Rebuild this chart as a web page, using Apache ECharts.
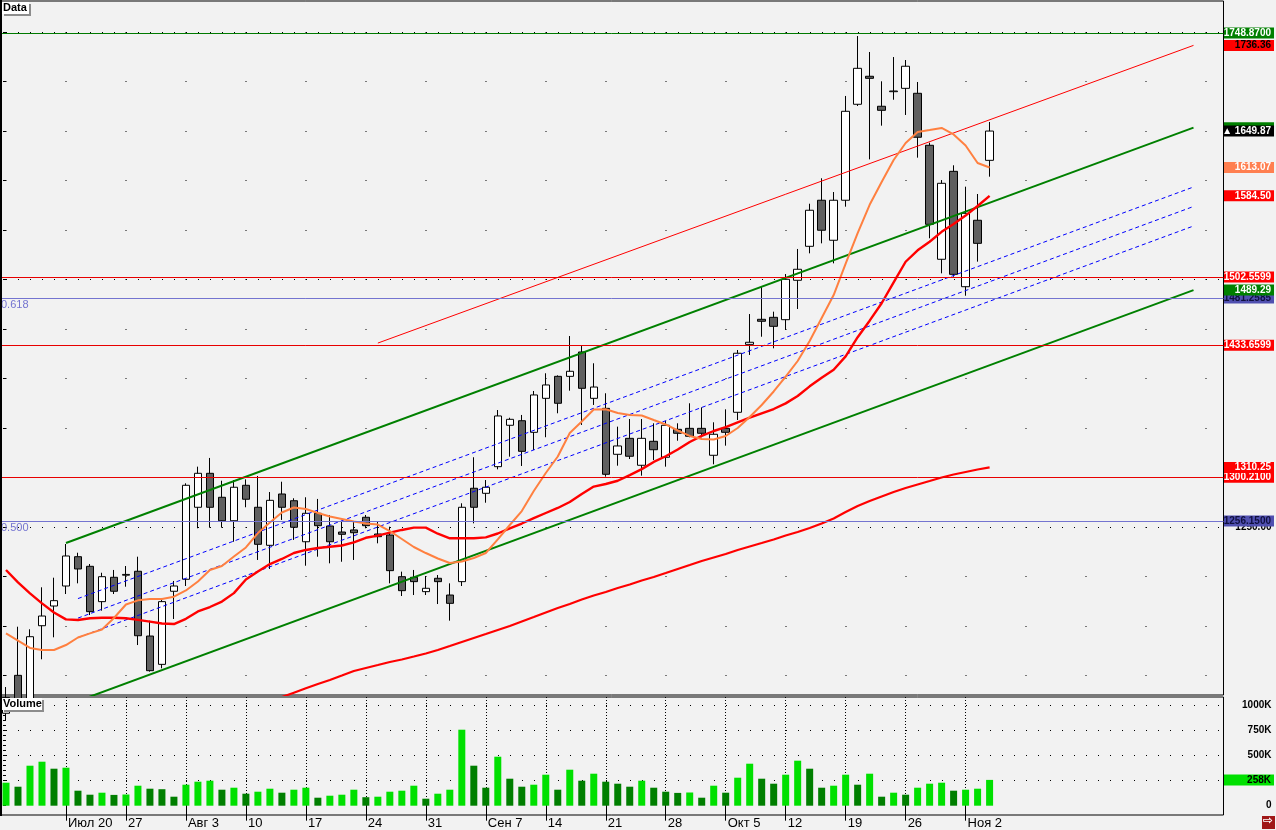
<!DOCTYPE html>
<html><head><meta charset="utf-8">
<script src="https://cdn.jsdelivr.net/npm/echarts@6/dist/echarts.min.js"></script>
<style>html,body{margin:0;padding:0;background:#f2f2f2;}#c{width:1276px;height:830px;}</style>
</head><body><div id="c"></div>
<script>
// ---- tick labels (one per Monday, index of the trading day) ----
const weekTickIdx = [5,10,15,20,25,30,35,40,45,50,55,60,65,70,75,80];
const weekLabels = ['Июл 20','27','Авг 3','10','17','24','31','Сен 7','14','21','28','Окт 5','12','19','26','Ноя 2'];
const priceTicks = [1100,1150,1200,1250,1300,1350,1400,1450,1500,1550,1600,1650,1700,1750];
const priceMajorTicks = [1250,1500,1750];
const priceAxisLabels = [1250];
const volTicks = [0,50000,100000,150000,200000,250000,300000,350000,400000,450000,500000,550000,600000,650000,700000,750000,800000,850000,900000,950000,1000000,1050000];
const volLabels = [0,250000,500000,750000,1000000];

// ---- daily OHLC ----
const opens = [1062,1100.3,1074,1150.4,1170.3,1190.5,1220.1,1210.4,1174.7,1199.3,
1201.4,1205.4,1140.0,1111.4,1185.2,1197.3,1270.0,1304.3,1280.1,1256.4,
1292.2,1270.0,1231.6,1283.4,1276.6,1235.2,1263.9,1251.1,1245.0,1247.1,
1259.9,1243.0,1242.0,1199.9,1199.3,1184.8,1198.3,1181.4,1194.9,1289.2,
1284.1,1311.0,1352.8,1357.4,1345.7,1380.0,1402.2,1402.2,1426.8,1380.0,
1369.9,1323.5,1339.6,1312.4,1336.6,1320.5,1348.7,1349.7,1349.7,1322.5,
1349.7,1365.9,1434.5,1459.8,1461.8,1459.4,1499.2,1533.5,1580.0,1539.6,
1580.0,1676.9,1705.2,1674.9,1689.6,1693.0,1688.0,1635.5,1520.4,1609.2,
1492.7,1559.8,1620.3];
const closes = [1078,1072,1139.3,1160.2,1175.7,1220.8,1207.7,1164.6,1199.9,1185.2,
1202.2,1140.3,1105.0,1174.7,1190.5,1292.2,1304.3,1270.0,1256.4,1290.2,
1278.1,1232.6,1277.0,1270.0,1249.8,1263.9,1251.4,1235.2,1242.7,1244.3,
1251.4,1240.3,1206.0,1185.8,1194.9,1188.2,1194.9,1173.0,1270.0,1270.0,
1290.2,1362.2,1358.8,1326.5,1383.4,1393.5,1375.0,1407.3,1390.1,1391.4,
1303.3,1331.9,1321.5,1339.6,1328.1,1352.8,1344.7,1341.7,1344.7,1343.7,
1345.7,1425.5,1436.6,1457.8,1452.7,1500.2,1510.3,1569.9,1549.7,1580.0,
1669.8,1713.2,1703.1,1670.8,1690.3,1715.3,1643.6,1555.7,1597.1,1505.2,
1566.8,1536.5,1649.87];
const lows = [1055,1066,1068,1116.5,1138.7,1182.4,1193.2,1161.2,1165.6,1182.4,
1189.8,1130.9,1104.0,1107.4,1157.2,1190.5,1248.8,1249.4,1249.4,1235.2,
1270.0,1216.8,1207.7,1257.2,1237.0,1211.0,1220.1,1213.4,1215.0,1216.8,
1248.8,1233.6,1193.2,1180.4,1181.4,1181.4,1172.3,1155.5,1190.5,1253.8,
1274.6,1308.3,1321.1,1311.7,1327.8,1340.7,1364.9,1387.7,1353.1,1373.3,
1300.9,1312.0,1318.7,1301.9,1317.7,1311.0,1337.2,1340.7,1340.7,1313.4,
1332.2,1358.1,1423.8,1442.2,1430.5,1449.0,1470.2,1526.4,1536.5,1516.3,
1573.5,1675.2,1621.3,1655.3,1681.5,1666.1,1623.0,1541.6,1506.2,1502.8,
1483.6,1518.0,1603.8];
const highs = [1088.5,1149.4,1146.8,1189.2,1198.9,1232.9,1224.1,1212.7,1203.9,1206.7,
1210.7,1220.1,1155.5,1178.4,1195.6,1294.2,1311.0,1319.8,1296.8,1297.5,
1298.2,1301.6,1285.4,1295.8,1279.1,1280.1,1278.4,1262.2,1255.4,1255.4,
1262.2,1255.4,1250.4,1205.0,1206.7,1200.6,1201.6,1193.2,1274.0,1320.5,
1297.5,1368.2,1360.4,1363.2,1387.4,1405.3,1403.2,1442.9,1432.8,1415.4,
1385.1,1351.4,1359.1,1359.1,1354.8,1357.4,1354.8,1375.0,1370.9,1355.8,
1368.9,1428.8,1465.1,1492.7,1467.5,1505.5,1530.8,1576.5,1602.2,1588.3,
1685.3,1745.8,1729.7,1700.1,1724.6,1721.6,1699.4,1638.1,1600.4,1615.3,
1593.7,1586.3,1659.0];
const volumes = [230000,190000,400000,440000,370000,380000,150000,110000,130000,108000,
112000,200000,170000,165000,90000,210000,240000,250000,160000,180000,
120000,140000,170000,130000,160000,180000,80000,100000,110000,160000,
85000,90000,140000,150000,200000,70000,120000,160000,760000,400000,
180000,490000,270000,190000,210000,310000,160000,360000,250000,320000,
240000,220000,190000,250000,180000,140000,128000,132000,80000,200000,
130000,280000,420000,270000,220000,310000,450000,370000,180000,200000,
310000,210000,320000,90000,130000,110000,180000,220000,230000,150000,
160000,170000,258000];

// ---- indicators ----
const fastMA = [1142.7,1135.4,1128.0,1125.9,1125.9,1130.9,1138.5,1142.7,1146.6,1158.2,
1171.8,1176.0,1177.4,1177.4,1179.7,1186.0,1195.1,1206.7,1210.7,1220.3,
1229.4,1244.0,1254.6,1264.7,1269.8,1268.3,1264.2,1260.7,1258.2,1255.6,
1253.6,1252.6,1246.0,1238.0,1229.9,1223.8,1218.3,1213.7,1215.2,1218.8,
1223.8,1237.5,1252.1,1266.2,1286.4,1304.6,1321.3,1345.0,1356.6,1368.7,
1368.9,1365.2,1363.2,1362.7,1358.1,1353.6,1347.5,1342.0,1338.9,1338.4,
1342.0,1350.0,1361.2,1373.3,1386.9,1402.0,1417.7,1437.9,1461.1,1484.3,
1516.1,1546.9,1575.4,1598.4,1620.6,1637.8,1648.9,1650.9,1653.0,1646.4,
1635.3,1617.6,1613.07];
const midMA = [1206.7,1194.2,1183.1,1173.0,1163.8,1156.8,1156.2,1158.0,1158.5,1158.4,
1157.9,1156.3,1154.5,1152.7,1152.1,1157.4,1164.8,1169.3,1174.8,1183.3,
1197.0,1205.1,1212.7,1217.8,1223.8,1226.9,1228.9,1230.1,1231.4,1234.6,
1239.2,1241.4,1244.4,1247.1,1249.4,1249.4,1243.3,1238.7,1238.7,1238.7,
1239.6,1243.5,1248.7,1253.6,1259.0,1264.2,1269.3,1275.3,1283.4,1290.9,
1293.5,1296.8,1302.4,1308.5,1315.8,1321.5,1328.3,1335.9,1342.1,1347.0,
1351.0,1355.8,1360.4,1364.9,1369.2,1374.9,1382.4,1392.1,1400.8,1408.8,
1422.4,1441.7,1458.4,1476.0,1497.0,1517.9,1529.5,1538.1,1548.1,1556.0,
1564.5,1574.2,1584.5];
const slowMAStart = 22;
const slowMA = [1073.9,1078.4,1082.8,1087.2,1091.6,1095.6,1100.1,1104.7,1107.7,1110.7,
1113.8,1116.3,1119.3,1122.4,1125.9,1129.9,1134.0,1138.0,1142.0,1146.1,
1150.1,1154.7,1159.2,1163.8,1168.3,1172.3,1176.9,1180.9,1184.5,1188.5,
1192.0,1196.1,1199.6,1203.6,1207.7,1211.7,1215.8,1219.3,1222.8,1226.9,
1230.4,1233.9,1237.5,1241.5,1245.0,1249.1,1253.6,1258.7,1265.2,1271.3,
1276.3,1280.9,1285.4,1289.5,1293.0,1296.5,1300.1,1303.1,1305.6,1308.1,
1310.25];

// trend lines: [dayIndex, price]
const channelUpper = [[5,1233.9],[99,1653.30]];
const channelLower = [[5,1069.9],[99,1489.29]];
const devUpper = [[6,1177.8],[99,1593.4]];
const devMid = [[6,1158.1],[99,1573.7]];
const devLower = [[6,1138.4],[99,1554.0]];
const redTrend = [[31,1435.8],[99,1736.36]];

// horizontal levels
const levelGreen = [1748.87];
const levelRed = [1502.5599,1433.6599,1300.21];
const fibLevels = [1481.2585,1256.15];
const fibNames = ['0.618','0.500'];

// ---------------------------------------------------------------
const FONT = 'Liberation Sans';
const candleData = opens.map((o,i)=>[i,o,closes[i],lows[i],highs[i]]);
const volData = volumes.map((v,i)=>[i,v]);
const toXY = arr => arr.map((v,i)=>[i,v]);
const slowData = slowMA.map((v,i)=>[i+slowMAStart,v]);
const last = a => a[a.length-1];
const lastY = a => a[a.length-1][1];
const hidden = {color:'rgba(0,0,0,0)', width:0, opacity:1};

function tag(value, text, bg, fg, lineStyle){
  return {
    yAxis: value,
    lineStyle: lineStyle || hidden,
    label: {show:true, opacity:1, position:'end', distance:0.5, formatter:'{t|'+text+'}',
      rich:{t:{backgroundColor:bg, color:fg, fontFamily:FONT, fontWeight:'bold', fontSize:10,
        lineHeight:11, height:11, width:46, align:'right', padding:[0,3,0,1], opacity:1}}}
  };
}
function fibText(value, text){
  return {yAxis:value, lineStyle:hidden,
    label:{show:true, opacity:1, position:'insideStartBottom', distance:1, formatter:text,
      color:'#7474d0', fontFamily:FONT, fontSize:11}};
}
const redLine = {color:'#e80000', width:1, type:'solid', opacity:1};
const fibLine = {color:'#7474d0', width:1, type:'solid', opacity:1};
const greenLine = {color:'#007a00', width:1, type:'solid', opacity:1};

const levelMarks = [
  tag(levelGreen[0], levelGreen[0].toFixed(4), '#008000', '#ffffff', greenLine),
  tag(levelRed[0], levelRed[0].toFixed(4), '#ff0000', '#ffffff', redLine),
  tag(fibLevels[0], fibLevels[0].toFixed(4), '#5050b0', '#101040', fibLine),
  tag(levelRed[1], levelRed[1].toFixed(4), '#ff0000', '#ffffff', redLine),
  tag(levelRed[2], levelRed[2].toFixed(4), '#ff0000', '#ffffff', redLine),
  tag(fibLevels[1], fibLevels[1].toFixed(4), '#5050b0', '#101040', fibLine),
  fibText(fibLevels[0], fibNames[0]),
  fibText(fibLevels[1], fibNames[1])
];
const indicatorMarks = [
  tag(lastY(redTrend), lastY(redTrend).toFixed(2), '#ff0000', '#000000'),
  tag(lastY(channelUpper), '\u00a0', '#008000', '#ffffff'),
  tag(last(closes), '▲ ' + last(closes).toFixed(2), '#000000', '#ffffff'),
  tag(last(fastMA), last(fastMA).toFixed(2), '#ff7f50', '#ffffff'),
  tag(last(midMA), last(midMA).toFixed(2), '#ff0000', '#ffffff'),
  tag(lastY(channelLower), lastY(channelLower).toFixed(2), '#008000', '#ffffff'),
  tag(last(slowMA), last(slowMA).toFixed(2), '#ff0000', '#ffffff')
];

function lineSeries(data, color, width, type, z){
  return {type:'line', xAxisIndex:0, yAxisIndex:0, data:data, symbol:'none', silent:true,
    lineStyle:{color:color, width:width, type:type||'solid'}, z:z||3, animation:false, clip:true};
}

const chart = echarts.init(document.getElementById('c'), null, {renderer:'canvas'});
chart.setOption({
  animation:false,
  backgroundColor:'#f2f2f2',
  textStyle:{fontFamily:FONT},
  grid:[
    {left:-0.5, top:1, width:1224, height:694, show:true, borderColor:'#000', borderWidth:1, backgroundColor:'transparent'},
    {left:-0.5, top:697, width:1224, height:118, show:true, borderColor:'#000', borderWidth:1, backgroundColor:'transparent'}
  ],
  xAxis:[
    {type:'value', gridIndex:0, min:-0.5, max:101.5, axisLine:{show:false}, axisTick:{show:false},
      axisLabel:{show:false}, splitLine:{show:false}},
    {type:'value', gridIndex:1, min:-0.5, max:101.5, axisLine:{show:false},
      axisTick:{show:true, customValues:weekTickIdx, length:15, lineStyle:{color:'#000', width:1}},
      axisLabel:{show:true, customValues:weekTickIdx, align:'left', margin:2, padding:[0,0,0,2],
        fontSize:13, color:'#000', fontFamily:FONT,
        formatter:v=>weekLabels[weekTickIdx.indexOf(v)]||''},
      splitLine:{show:true, lineStyle:{color:'#000', width:1, type:[1,2]}}}
  ],
  yAxis:[
    {type:'value', gridIndex:0, position:'right', min:1080.45, max:1781.18,
      axisLine:{show:false},
      axisTick:{show:true, inside:true, length:3, customValues:priceTicks, lineStyle:{color:'#000'}},
      axisLabel:{show:true, customValues:priceAxisLabels, align:'right', margin:48, color:'#000',
        fontWeight:'bold', fontSize:10, fontFamily:FONT, formatter:v=>v.toFixed(2)},
      splitLine:{show:true, lineStyle:{color:'#000', width:1, type:[1,59], dashOffset:54.5}}},
    {type:'value', gridIndex:0, position:'right', min:1080.45, max:1781.18,
      axisLine:{show:false}, axisTick:{show:false, customValues:priceMajorTicks},
      axisLabel:{show:false},
      splitLine:{show:true, lineStyle:{color:'#000', width:1, type:[1,11], dashOffset:6}}},
    {type:'value', gridIndex:1, position:'right', min:-93000, max:1087000,
      axisLine:{show:false},
      axisTick:{show:true, inside:true, length:3, customValues:volTicks, lineStyle:{color:'#000'}},
      axisLabel:{show:true, customValues:volLabels, align:'right', margin:48, color:'#000',
        fontWeight:'bold', fontSize:10, fontFamily:FONT,
        formatter:v=> v===0 ? '0' : (v/1000)+'K'},
      splitLine:{show:false}},
    {type:'value', gridIndex:1, position:'right', min:-93000, max:1087000,
      axisLine:{show:false}, axisTick:{show:false, customValues:[250000,500000,750000,1000000]},
      axisLabel:{show:false},
      splitLine:{show:true, lineStyle:{color:'#000', width:1, type:[1,11], dashOffset:6}}}
  ],
  series:[
    {type:'candlestick', xAxisIndex:0, yAxisIndex:0, data:candleData, encode:{x:0, y:[1,2,3,4]},
      barWidth:8, clip:true, silent:true, z:2,
      itemStyle:{color:'#ffffff', color0:'#5f5f5f', borderColor:'#000', borderColor0:'#000', borderWidth:1},
      markLine:{symbol:['none','none'], silent:true, animation:false, precision:4, data:levelMarks}},
    lineSeries(channelUpper, '#008000', 2),
    lineSeries(channelLower, '#008000', 2),
    lineSeries(devUpper, '#0000ff', 1, [4,3]),
    lineSeries(devMid, '#0000ff', 1, [4,3]),
    lineSeries(devLower, '#0000ff', 1, [4,3]),
    lineSeries(redTrend, '#ff0000', 1),
    lineSeries(slowData, '#ff0000', 2.2),
    lineSeries(toXY(midMA), '#ff0000', 2.4),
    lineSeries(toXY(fastMA), '#ff8040', 2),
    {type:'line', xAxisIndex:0, yAxisIndex:0, data:[[0,null]], symbol:'none', silent:true, z:6,
      markLine:{symbol:['none','none'], silent:true, animation:false, precision:4, data:indicatorMarks}},
    {type:'bar', xAxisIndex:1, yAxisIndex:2, data:volData, barWidth:7, silent:true, z:2,
      itemStyle:{color:p=> (p.dataIndex===0 || volumes[p.dataIndex] > volumes[p.dataIndex-1]) ? '#00e000' : '#007f00'},
      markLine:{symbol:['none','none'], silent:true, animation:false,
        data:[tag(last(volumes), Math.round(last(volumes)/1000)+'K', '#00e000', '#000000')]}}
  ],
  graphic:[
    {type:'rect', left:0, top:0, shape:{width:2, height:816}, style:{fill:'#000'}, z:100},
    {type:'rect', left:4, top:4, shape:{width:27, height:12}, style:{fill:'#8c8c8c'}, z:100},
    {type:'rect', left:2, top:2, shape:{width:27, height:12}, style:{fill:'#ffffff'}, z:101},
    {type:'text', left:3, top:2, style:{text:'Data', font:'bold 11px "Liberation Sans"', fill:'#000'}, z:102},
    {type:'rect', left:4, top:700, shape:{width:40, height:12}, style:{fill:'#8c8c8c'}, z:100},
    {type:'rect', left:2, top:698, shape:{width:40, height:12}, style:{fill:'#ffffff'}, z:101},
    {type:'text', left:3, top:698, style:{text:'Volume', font:'bold 11px "Liberation Sans"', fill:'#000'}, z:102},
    {type:'rect', left:1262, top:816, shape:{width:13, height:13}, style:{fill:'#a01818'}, z:100},
    {type:'text', left:1263, top:815, style:{text:'⇨', font:'bold 12px "DejaVu Sans"', fill:'#fff'}, z:101}
  ]
});
</script></body></html>
